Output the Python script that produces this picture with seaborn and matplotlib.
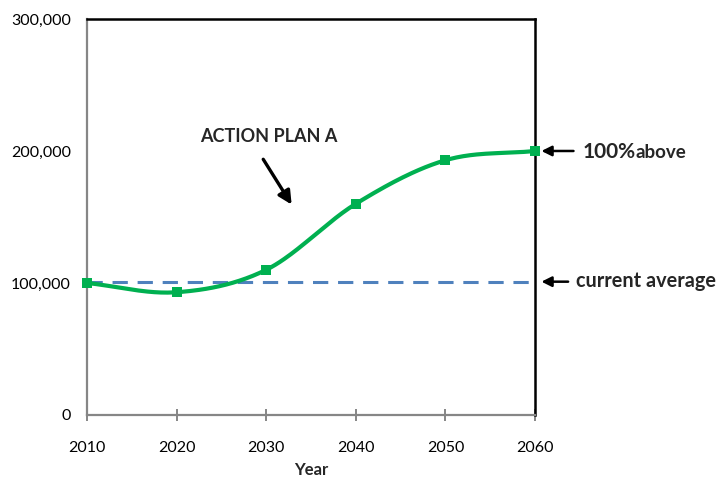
import numpy as np
import pandas as pd
import matplotlib
matplotlib.use("Agg")
import matplotlib.pyplot as plt
import seaborn as sns
from matplotlib.ticker import FuncFormatter

years = [2010, 2020, 2030, 2040, 2050, 2060]
plan_a = [100000, 93000, 110000, 160000, 193000, 200000]
current_average = 101000
x_ticks = [2010, 2020, 2030, 2040, 2050, 2060]
y_ticks = [0, 100000, 200000, 300000]

GREEN = "#00B050"
BLUE = "#4F81BD"
GRAY = "#868686"

sns.set_theme(style="white")
plt.rcParams["font.family"] = ["Lato", "DejaVu Sans"]


def catmull_rom(xs, ys, steps=40, tension=0.5):
    """Smooth curve through the points, like a spreadsheet 'smoothed line'."""
    xs = np.asarray(xs, float)
    ys = np.asarray(ys, float)
    px = np.concatenate([[2 * xs[0] - xs[1]], xs, [2 * xs[-1] - xs[-2]]])
    py = np.concatenate([[2 * ys[0] - ys[1]], ys, [2 * ys[-1] - ys[-2]]])
    out_x, out_y = [], []
    for i in range(1, len(px) - 2):
        t = np.linspace(0, 1, steps, endpoint=False)
        p0x, p1x, p2x, p3x = px[i - 1:i + 3]
        p0y, p1y, p2y, p3y = py[i - 1:i + 3]
        m1x, m2x = tension * (p2x - p0x), tension * (p3x - p1x)
        m1y, m2y = tension * (p2y - p0y), tension * (p3y - p1y)
        h00 = 2 * t**3 - 3 * t**2 + 1
        h10 = t**3 - 2 * t**2 + t
        h01 = -2 * t**3 + 3 * t**2
        h11 = t**3 - t**2
        out_x.extend(h00 * p1x + h10 * m1x + h01 * p2x + h11 * m2x)
        out_y.extend(h00 * p1y + h10 * m1y + h01 * p2y + h11 * m2y)
    out_x.append(xs[-1])
    out_y.append(ys[-1])
    return np.array(out_x), np.array(out_y)


fig = plt.figure(figsize=(7.18, 4.78), dpi=100)
ax = fig.add_axes([0.1212, 0.1318, 0.6240, 0.8285])

sx, sy = catmull_rom(years, plan_a)
smooth = pd.DataFrame({"Year": sx, "Value": sy})
points = pd.DataFrame({"Year": years, "Value": plan_a})

ax.plot([years[0], years[-1]], [current_average, current_average],
        color=BLUE, lw=2.2, dashes=(5, 3.2), zorder=2)
sns.lineplot(data=smooth, x="Year", y="Value", ax=ax, color=GREEN,
             lw=3, estimator=None, sort=False, zorder=3)
sns.scatterplot(data=points, x="Year", y="Value", ax=ax, color=GREEN,
                marker="s", s=60, edgecolor=GREEN, linewidth=0,
                zorder=4, clip_on=False)

ax.set_xlim(2010, 2060)
ax.set_ylim(0, 300000)
ax.set_xticks(x_ticks)
ax.set_yticks(y_ticks)
ax.yaxis.set_major_formatter(FuncFormatter(lambda v, p: f"{int(v):,}"))

for side in ["left", "bottom"]:
    ax.spines[side].set_color(GRAY)
    ax.spines[side].set_linewidth(1.6)
for side in ["top", "right"]:
    ax.spines[side].set_color("black")
    ax.spines[side].set_linewidth(1.8)

ax.tick_params(axis="x", direction="inout", length=9, width=1.4, color=GRAY,
               pad=14, labelsize=11.5, labelcolor="black", bottom=True)
ax.tick_params(axis="y", length=0, pad=11.5, labelsize=11.5, labelcolor="black")
ax.set_xlabel("Year", fontsize=12, fontweight="bold", labelpad=5)
ax.set_ylabel("")
ax.grid(False)

# Annotations
ax.text(2030.3, 210600, "ACTION PLAN A", fontsize=13, fontweight="bold",
        ha="center", va="center")
ax.annotate("", xy=(2033.0, 157600), xytext=(2029.5, 195500),
            arrowprops=dict(arrowstyle="-|>", color="black", lw=2.4,
                            mutation_scale=20))

ax.annotate("", xy=(2060.4, 200000), xytext=(2064.6, 200000),
            annotation_clip=False,
            arrowprops=dict(arrowstyle="-|>", color="black", lw=1.8,
                            mutation_scale=15))
fig.text(583 / 718, 1 - 158 / 478, "100%", fontsize=15, fontweight="bold",
         ha="left", va="baseline")
fig.text(636 / 718, 1 - 158 / 478, "above", fontsize=13.5, fontweight="bold",
         ha="left", va="baseline")

ax.annotate("", xy=(2060.4, current_average), xytext=(2064.0, current_average),
            annotation_clip=False,
            arrowprops=dict(arrowstyle="-|>", color="black", lw=1.8,
                            mutation_scale=15))
fig.text(576 / 718, 1 - 281 / 478, "current average", fontsize=14.3,
         fontweight="bold", ha="left", va="center")

fig.savefig("out.png", dpi=100)
